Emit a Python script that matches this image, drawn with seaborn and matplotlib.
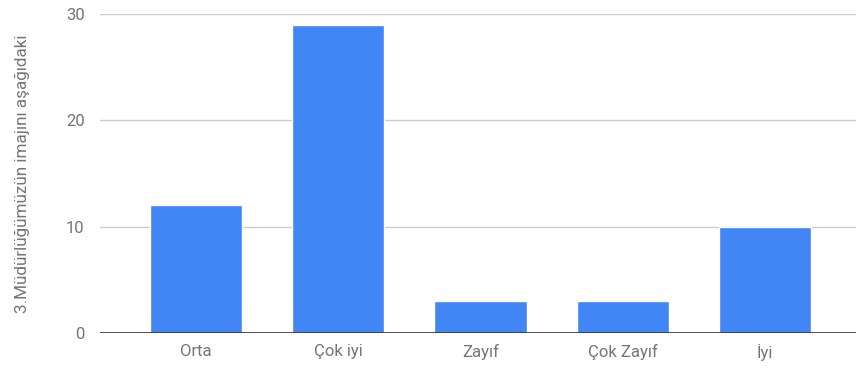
import pandas as pd
import seaborn as sns
import matplotlib.pyplot as plt

# data
categories = ['Orta', 'Çok iyi', 'Zayıf', 'Çok Zayıf', 'İyi']
counts = [12, 29, 3, 3, 10]
y_ticks = [0, 10, 20, 30]
y_label = '3.Müdürlüğümüzün imajını aşağıdaki'

BAR_COLOR = '#4285F4'
TEXT_COLOR = '#757575'

sns.set_style('white')
plt.rcParams['font.family'] = ['Roboto', 'DejaVu Sans']

df = pd.DataFrame({'category': categories, 'count': counts})

fig = plt.figure(figsize=(8.56, 3.71), dpi=100)
ax = fig.add_axes([100 / 856, 38 / 371, 756 / 856, 319 / 371])

sns.barplot(data=df, x='category', y='count', order=categories, color=BAR_COLOR,
            saturation=1, width=0.65, ax=ax, zorder=3)

ax.set_ylim(0, 30)
ax.set_xlim(-0.675, 4.64)
ax.set_yticks(y_ticks)
ax.yaxis.grid(True, color='#cccccc', linewidth=1, zorder=0)
ax.axhline(0, color='#333333', linewidth=1.2, zorder=4)

for side in ['top', 'right', 'left', 'bottom']:
    ax.spines[side].set_visible(False)

ax.tick_params(axis='both', length=0, labelsize=12, labelcolor=TEXT_COLOR)
ax.tick_params(axis='y', pad=11)
ax.tick_params(axis='x', pad=8)
ax.set_xlabel('')
ax.set_ylabel(y_label, fontsize=12.3, color=TEXT_COLOR, labelpad=26)

fig.savefig('out.png', dpi=100)
